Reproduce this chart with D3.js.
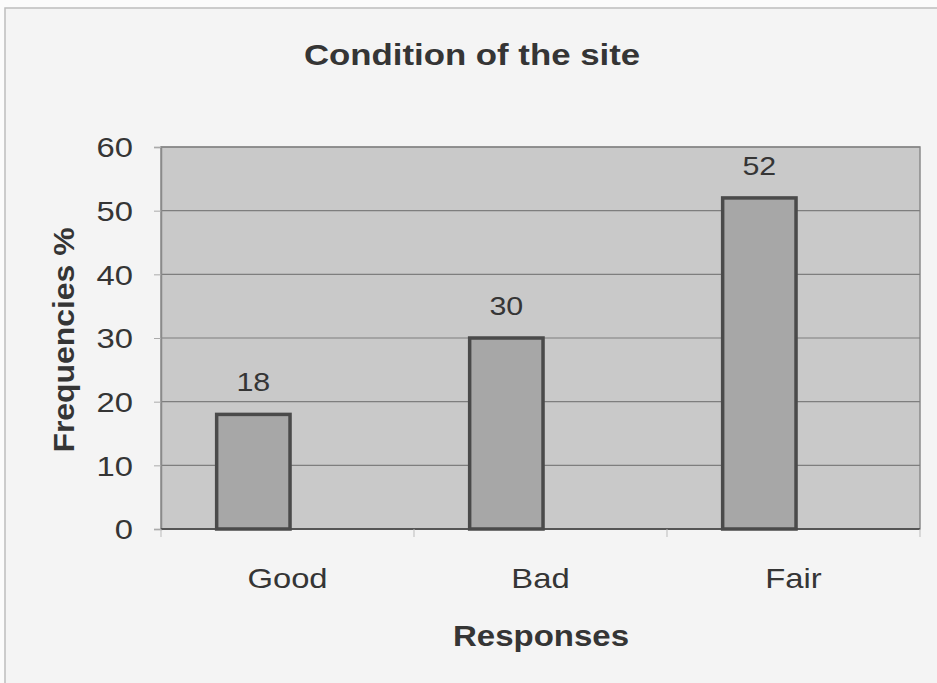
<!DOCTYPE html>
<html><head><meta charset="utf-8">
<script src="https://cdn.jsdelivr.net/npm/d3@7"></script>
<style>body{margin:0;background:#fff;} text{font-family:"Liberation Sans",Arial,sans-serif;}</style>
</head><body>
<svg id="c" width="937" height="683"></svg>
<script>
const categories = ["Good", "Bad", "Fair"];
const values = [18, 30, 52];
const yTicks = [0, 10, 20, 30, 40, 50, 60];
const title = "Condition of the site";
const xTitle = "Responses";
const yTitle = "Frequencies %";

const svg = d3.select("#c");
const W = 937, H = 683;
const m = {left: 161, right: 920, top: 147, bottom: 529};
const SX = 1.17; // horizontal stretch of text in the reference
const FONT = "Liberation Sans, Arial, sans-serif";

function label(g, x, y, txt, size, bold, sx, rot) {
  return g.append("text")
    .attr("transform", `translate(${x},${y})` + (rot ? ` rotate(${rot})` : "") + ` scale(${sx},1)`)
    .attr("text-anchor", "middle").attr("font-size", size)
    .attr("font-weight", bold ? "bold" : "normal").attr("fill", "#353535")
    .attr("font-family", FONT).text(txt);
}

svg.append("rect").attr("x", 0).attr("y", 0).attr("width", W).attr("height", H).attr("fill", "#fbfbfb");
svg.append("rect").attr("x", 5).attr("y", 8).attr("width", W - 4).attr("height", H).attr("fill", "#f4f4f4")
  .attr("stroke", "#bdbdbd").attr("stroke-width", 1.5);

const x = d3.scaleBand().domain(categories).range([m.left, m.right]).paddingInner(0).paddingOuter(0);
const y = d3.scaleLinear().domain([0, 60]).range([m.bottom, m.top]);

svg.append("rect").attr("x", m.left).attr("y", m.top).attr("width", m.right - m.left).attr("height", m.bottom - m.top)
  .attr("fill", "#c9c9c9").attr("stroke", "#8a8a8a").attr("stroke-width", 1.5);

// gridlines
svg.append("g").selectAll("line").data(yTicks.filter(d => d > 0)).join("line")
  .attr("x1", m.left).attr("x2", m.right).attr("y1", d => y(d)).attr("y2", d => y(d))
  .attr("stroke", "#7e7e7e").attr("stroke-width", 1.2);

// y axis
const yAxis = d3.axisLeft(y).tickValues(yTicks).tickSize(7).tickPadding(21);
const gy = svg.append("g").attr("transform", `translate(${m.left},0)`).call(yAxis);
gy.select(".domain").attr("stroke", "#8a8a8a").attr("stroke-width", 1.5);
gy.selectAll(".tick line").attr("stroke", "#aaaaaa");
gy.selectAll(".tick text")
  .attr("font-size", 28).attr("fill", "#353535").attr("font-family", FONT)
  .attr("x", 0).attr("dy", "0.35em")
  .attr("transform", `translate(-28,0) scale(${SX},1)`);

// x axis ticks at band boundaries
const gx = svg.append("g").attr("transform", `translate(0,${m.bottom})`);
gx.append("line").attr("x1", m.left).attr("x2", m.right).attr("stroke", "#555").attr("stroke-width", 2);
const bounds = categories.map(c => x(c)).concat([x(categories[categories.length - 1]) + x.bandwidth()]);
gx.selectAll("line.tk").data(bounds).join("line").attr("class", "tk")
  .attr("x1", d => d).attr("x2", d => d).attr("y1", 0).attr("y2", 8).attr("stroke", "#bbbbbb");
categories.forEach(c => label(gx, x(c) + x.bandwidth() / 2, 59, c, 28, false, SX));

// bars (offset left of band centre as in reference)
const barW = x.bandwidth() * 0.29;
const off = -x.bandwidth() * 0.135;
svg.append("g").selectAll("rect").data(values).join("rect")
  .attr("x", (d, i) => x(categories[i]) + x.bandwidth() / 2 + off - barW / 2)
  .attr("y", d => y(d)).attr("width", barW).attr("height", d => y(0) - y(d))
  .attr("fill", "#a7a7a7").attr("stroke", "#4a4a4a").attr("stroke-width", 3.5);

const gl = svg.append("g");
values.forEach((v, i) => label(gl, x(categories[i]) + x.bandwidth() / 2 + off, y(v) - 23, v, 26, false, SX));

// titles
label(svg, 472, 65, title, 29, true, 1.2);
label(svg, 541, 646, xTitle, 30, true, 1.1);
label(svg, 74, 340, yTitle, 29, true, 1.1, -90);
</script>
</body></html>
